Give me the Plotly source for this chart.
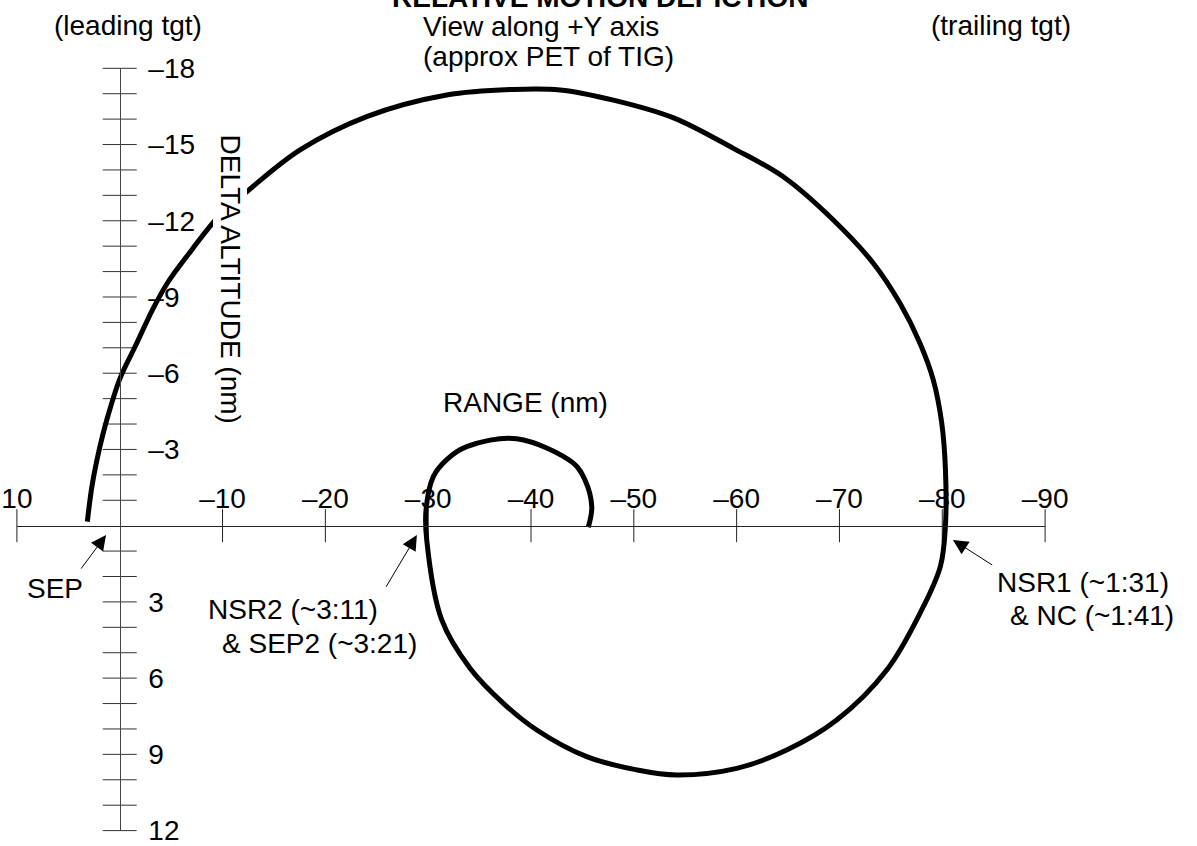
import plotly.graph_objects as go

# ---------------- data ----------------
# trajectory: range (nm, + = ahead) and delta altitude (nm, - = above)
RANGE_NM = [3.15, 2.68, 1.98, 1.26, -0.03, -1.49, -3.27, -4.70, -7.00, -9.59,
            -12.35, -17.54, -24.02, -31.80, -38.28, -42.82, -48.01, -53.81, -59.68, -64.54,
            -69.40, -73.29, -75.89, -77.83, -79.13, -79.95, -80.31, -80.30, -79.81, -77.83,
            -74.60, -69.73, -64.87, -60.01, -54.17, -50.28, -45.42, -40.56, -37.31, -34.07,
            -31.32, -29.86, -29.79, -30.50, -31.83, -33.75, -38.61, -44.12, -45.25, -45.91,
            -45.57]
DALT_NM = [-0.16, -1.60, -3.02, -4.16, -5.80, -7.04, -8.56, -9.59, -10.85, -12.16,
           -13.14, -14.79, -16.10, -16.95, -17.17, -17.15, -16.75, -16.06, -14.85, -13.73,
           -12.03, -10.33, -8.75, -7.18, -5.73, -4.03, -2.19, 0.04, 1.61, 3.45,
           5.68, 7.65, 8.83, 9.55, 9.81, 9.61, 9.09, 8.04, 6.99, 5.61,
           3.71, 0.56, -0.62, -1.93, -2.61, -3.11, -3.42, -2.46, -1.80, -0.75,
           0.06]

X_TICK_VALS = [10, -10, -20, -30, -40, -50, -60, -70, -80, -90]
X_TICK_TEXT = ["10", "–10", "–20", "–30", "–40", "–50", "–60", "–70", "–80", "–90"]
Y_LABEL_VALS = [-18, -15, -12, -9, -6, -3, 3, 6, 9, 12]
Y_LABEL_TEXT = ["–18", "–15", "–12", "–9", "–6", "–3", "3", "6", "9", "12"]
Y_MINOR_VALS = [v for v in range(-18, 13) if v != 0]

X_RANGE = [10, -90]
Y_RANGE = [12, -18]

TITLE = "RELATIVE MOTION DEPICTION"
X_TITLE = "RANGE (nm)"
Y_TITLE = "DELTA ALTITUDE (nm)"

# ---------------- layout geometry ----------------
W, H = 1197, 846
FONT = "Liberation Sans, Arial, Helvetica, sans-serif"
FS = 28

xd = [16.9 / W, 1045.1 / W]
yd = [1 - 830.6 / H, 1 - 68.3 / H]
x_zero_paper = xd[0] + (X_RANGE[0] - 0) / (X_RANGE[0] - X_RANGE[1]) * (xd[1] - xd[0])
y_zero_paper = yd[0] + (Y_RANGE[0] - 0) / (Y_RANGE[0] - Y_RANGE[1]) * (yd[1] - yd[0])


def px(x):
    return x / W


def py(y):
    return 1 - y / H


fig = go.Figure()

# tick marks crossing the axes
fig.add_trace(go.Scatter(
    x=X_TICK_VALS, y=[0] * len(X_TICK_VALS), mode="markers", cliponaxis=False,
    marker=dict(symbol="line-ns", size=23.6, line=dict(width=1, color="#222")),
    hoverinfo="skip", showlegend=False))
fig.add_trace(go.Scatter(
    x=[0] * len(Y_MINOR_VALS), y=Y_MINOR_VALS, mode="markers", cliponaxis=False,
    marker=dict(symbol="line-ew", size=24.3, line=dict(width=1, color="#333")),
    hoverinfo="skip", showlegend=False))

# trajectory
fig.add_trace(go.Scatter(
    x=RANGE_NM, y=DALT_NM, mode="lines",
    line=dict(color="black", width=5, shape="spline", smoothing=1),
    hoverinfo="skip", showlegend=False))

fig.update_layout(
    width=W, height=H, autosize=False,
    margin=dict(l=0, r=0, t=0, b=0, pad=0),
    paper_bgcolor="white", plot_bgcolor="white",
    font=dict(family=FONT, size=FS, color="black"),
    xaxis=dict(domain=xd, range=X_RANGE, anchor="free", position=y_zero_paper,
               side="top", showline=True, linecolor="#222", linewidth=1,
               ticks="", tickvals=X_TICK_VALS, ticktext=X_TICK_TEXT,
               tickfont=dict(family=FONT, size=FS, color="black"),
               ticklabelstandoff=6, ticklabeloverflow="allow",
               showgrid=False, zeroline=False, automargin=False),
    yaxis=dict(domain=yd, range=Y_RANGE, anchor="free", position=x_zero_paper,
               side="right", showline=True, linecolor="#444", linewidth=1,
               ticks="", tickvals=Y_LABEL_VALS, ticktext=Y_LABEL_TEXT,
               tickfont=dict(family=FONT, size=FS, color="black"),
               ticklabelstandoff=22, ticklabeloverflow="allow",
               showgrid=False, zeroline=False, automargin=False),
)

ann = []


def txt(t, x, y, xanchor="center", bold=False, **kw):
    d = dict(text=f"<b>{t}</b>" if bold else t, x=px(x), y=py(y), xref="paper", yref="paper",
             xanchor=xanchor, yanchor="middle", showarrow=False,
             font=dict(family=FONT, size=FS, color="black"))
    d.update(kw)
    ann.append(d)


txt(TITLE, 600, -3, bold=True)
txt("(leading tgt)", 128.3, 25.5)
txt("(trailing tgt)", 1001, 25.5)
txt("View along +Y axis", 421, 26.3, xanchor="left")
txt("(approx PET of TIG)", 421, 56.1, xanchor="left")
txt(Y_TITLE, 230, 278.5, textangle=90, bgcolor="white")
txt(X_TITLE, 525, 402.3)
txt("SEP", 55, 588.6)
txt("NSR2 (~3:11)", 206, 609.6, xanchor="left")
txt("& SEP2 (~3:21)", 219.5, 643, xanchor="left")
txt("NSR1 (~1:31)", 995, 582, xanchor="left")
txt("& NC (~1:41)", 1008, 615, xanchor="left")

# arrows (head at data point, tail offset in pixels)
ARROWS = [(1.33, 0.37, -26, 35), (-28.9, 0.37, -31.7, 53.3), (-81.04, 0.56, 40.7, 26)]
for ax_, ay_, dx, dy in ARROWS:
    ann.append(dict(x=ax_, y=ay_, xref="x", yref="y", text="", showarrow=True,
                    ax=dx, ay=dy, axref="pixel", ayref="pixel",
                    arrowhead=2, arrowsize=3, arrowwidth=1, arrowcolor="black",
                    standoff=0, startstandoff=0))

fig.update_layout(annotations=ann)
fig.write_html("out.html", config={"displayModeBar": False, "staticPlot": True},
               post_script="document.body.style.margin='0px';document.body.style.overflow='hidden';")
